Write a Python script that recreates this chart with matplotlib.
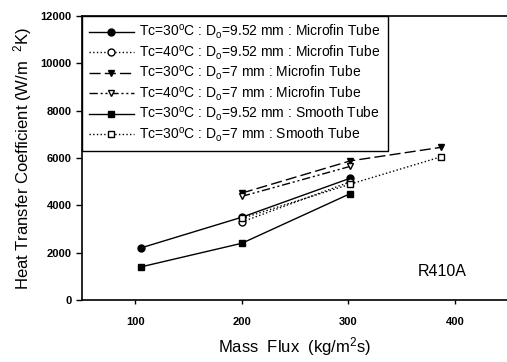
import matplotlib
matplotlib.use("Agg")
import matplotlib.pyplot as plt

plt.rcParams['font.family'] = ['Liberation Sans', 'DejaVu Sans']
plt.rcParams['mathtext.fontset'] = 'custom'
plt.rcParams['mathtext.rm'] = 'Liberation Sans'
plt.rcParams['mathtext.it'] = 'Liberation Sans:italic'

# Data (mass flux kg/m2s, heat transfer coefficient W/m2K)
x_c30_952_mf = [105, 200, 302]
y_c30_952_mf = [2200, 3500, 5150]
x_c40_952_mf = [200, 302]
y_c40_952_mf = [3300, 5000]
x_c30_7_mf = [200, 302, 387]
y_c30_7_mf = [4520, 5880, 6450]
x_c40_7_mf = [200, 302]
y_c40_7_mf = [4380, 5650]
x_c30_952_sm = [105, 200, 302]
y_c30_952_sm = [1400, 2400, 4500]
x_c30_7_sm = [200, 302, 387]
y_c30_7_sm = [3450, 4900, 6050]

labels = [
    r"Tc=30$\mathrm{^o}$C : D$\mathrm{_o}$=9.52 mm : Microfin Tube",
    r"Tc=40$\mathrm{^o}$C : D$\mathrm{_o}$=9.52 mm : Microfin Tube",
    r"Tc=30$\mathrm{^o}$C : D$\mathrm{_o}$=7 mm : Microfin Tube",
    r"Tc=40$\mathrm{^o}$C : D$\mathrm{_o}$=7 mm : Microfin Tube",
    r"Tc=30$\mathrm{^o}$C : D$\mathrm{_o}$=9.52 mm : Smooth Tube",
    r"Tc=30$\mathrm{^o}$C : D$\mathrm{_o}$=7 mm : Smooth Tube",
]
xticks = [100, 200, 300, 400]
yticks = [0, 2000, 4000, 6000, 8000, 10000, 12000]

fig = plt.figure(figsize=(5.07, 3.62), dpi=100)
ax = fig.add_axes([0.162, 0.171, 0.838, 0.785])

k = dict(color='black', lw=1.0, ms=5)
ax.plot(x_c30_952_mf, y_c30_952_mf, '-', marker='o', mfc='black', label=labels[0], **k)
ax.plot(x_c40_952_mf, y_c40_952_mf, ':', marker='o', mfc='white', label=labels[1], **k)
ax.plot(x_c30_7_mf, y_c30_7_mf, linestyle=(0, (8, 3)), marker='v', mfc='black', label=labels[2], **k)
ax.plot(x_c40_7_mf, y_c40_7_mf, linestyle=(0, (6, 2, 1.5, 2, 1.5, 2)), marker='v', mfc='white', label=labels[3], **k)
ax.plot(x_c30_952_sm, y_c30_952_sm, '-', marker='s', mfc='black', label=labels[4], **k)
ax.plot(x_c30_7_sm, y_c30_7_sm, ':', marker='s', mfc='white', label=labels[5], **k)

ax.set_xlim(50, 449)
ax.set_ylim(0, 12000)
ax.set_xticks(xticks)
ax.set_yticks(yticks)
ax.tick_params(axis='both', labelsize=8, direction='out', width=1)
ax.tick_params(axis='y', length=4)
ax.tick_params(axis='x', length=3, pad=9)
for t in ax.get_xticklabels() + ax.get_yticklabels():
    t.set_fontweight('bold')
ax.spines['right'].set_visible(False)
for s in ['left', 'bottom', 'top']:
    ax.spines[s].set_linewidth(1.2)

ax.set_xlabel(r"Mass  Flux  (kg/m$\mathrm{^2}$s)", fontsize=12, labelpad=6)
ax.set_ylabel(r"Heat Transfer Coefficient (W/m  $\mathrm{^2}$K)", fontsize=12, labelpad=5)
ax.text(388, 1200, "R410A", fontsize=11.5, ha='center', va='center')

leg = ax.legend(loc='upper left', bbox_to_anchor=(0, 1), borderaxespad=0,
                fontsize=10, handlelength=3.2, handletextpad=0.4,
                labelspacing=0.15, fancybox=False, framealpha=1,
                edgecolor='black', borderpad=0.5)
leg.get_frame().set_linewidth(1.0)

fig.savefig("out.png", dpi=100)
